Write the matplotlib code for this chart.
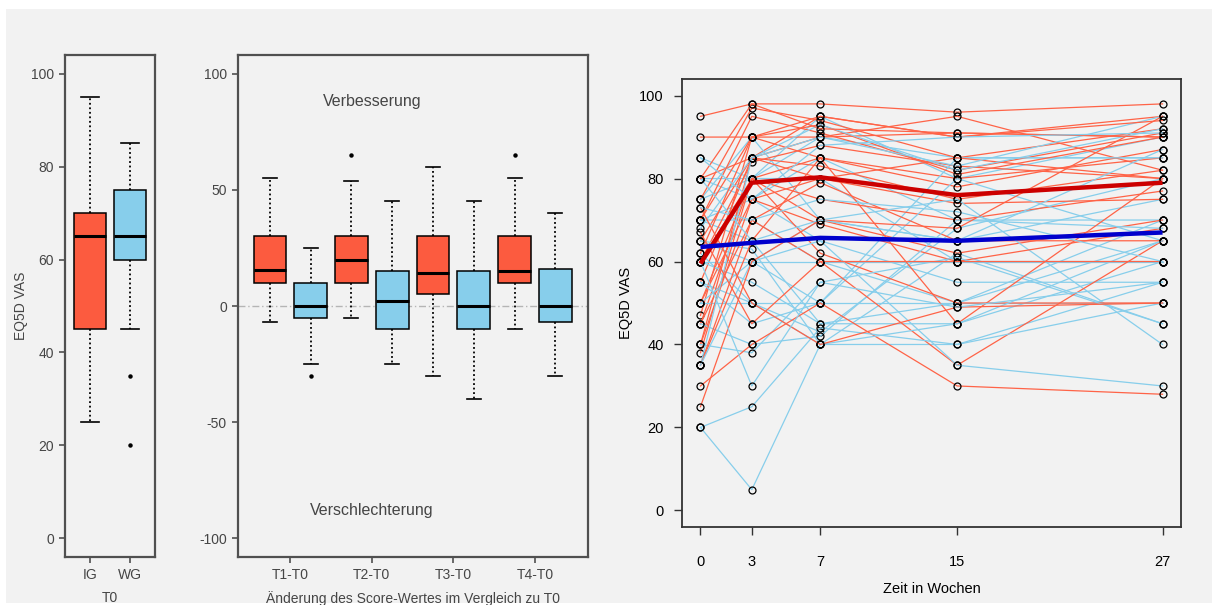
import numpy as np
import matplotlib.pyplot as plt
from matplotlib.patches import Rectangle

plt.rcParams['font.family'] = ['Liberation Sans', 'DejaVu Sans']
plt.rcParams['axes.unicode_minus'] = False

# baseline EQ5D VAS at T0 (whislo, q1, median, q3, whishi)
t0_groups = ["IG", "WG"]
t0_ig = [25, 45, 65, 70, 95]
t0_wg = [45, 60, 65, 75, 85]
t0_ig_out = []
t0_wg_out = [35, 20]

# change from T0 per follow-up
change_labels = ["T1-T0", "T2-T0", "T3-T0", "T4-T0"]
change_ig = [[-7, 10, 15.5, 30, 55], [-5, 10, 20, 30, 54],
             [-30, 5, 14, 30, 60], [-10, 10, 15, 30, 55]]
change_ig_out = [[], [65], [], [65]]
change_wg = [[-25, -5, 0, 10, 25], [-25, -10, 2, 15, 45],
             [-40, -10, 0, 15, 45], [-30, -7, 0, 16, 40]]
change_wg_out = [[-30], [], [], []]

# individual courses over time
weeks = [0, 3, 7, 15, 27]
ig_profiles = [
    [95, 98, 98, 96, 98], [90, 90, 90, 91, 90], [80, 85, 95, 90, 95],
    [75, 97, 94, 85, 92], [70, 95, 91, 82, 91], [70, 90, 85, 80, 85],
    [65, 85, 90, 95, 82], [60, 80, 85, 78, 87], [60, 84, 88, 83, 80],
    [55, 85, 80, 85, 80], [50, 80, 75, 70, 77], [50, 75, 80, 74, 75],
    [47, 90, 93, 81, 90], [45, 80, 70, 62, 70], [45, 70, 79, 65, 65],
    [40, 85, 83, 75, 82], [40, 75, 69, 60, 68], [38, 80, 62, 50, 50],
    [35, 70, 60, 35, 65], [35, 65, 85, 45, 80], [30, 40, 50, 30, 28],
    [25, 60, 70, 68, 95], [67, 45, 60, 60, 60], [73, 50, 40, 49, 50],
    [62, 90, 95, 90, 94], [80, 98, 92, 91, 90],
]
wg_profiles = [
    [85, 80, 90, 85, 85], [80, 80, 95, 80, 90], [80, 75, 85, 70, 70],
    [75, 90, 70, 65, 75], [75, 80, 80, 60, 60], [70, 75, 65, 55, 55],
    [70, 70, 60, 50, 65], [70, 65, 45, 45, 60], [65, 60, 50, 85, 85],
    [65, 63, 40, 40, 55], [62, 50, 43, 68, 80], [60, 60, 60, 60, 60],
    [60, 55, 45, 50, 70], [55, 50, 40, 62, 45], [55, 45, 50, 80, 65],
    [50, 50, 50, 50, 50], [50, 60, 70, 75, 40], [45, 40, 42, 70, 68],
    [40, 38, 55, 61, 45], [35, 85, 90, 83, 95], [35, 60, 65, 35, 30],
    [20, 25, 44, 40, 50], [20, 5, 40, 45, 65], [68, 85, 93, 82, 92],
    [73, 70, 75, 72, 60], [80, 65, 70, 65, 87], [60, 30, 55, 49, 55],
    [85, 75, 88, 90, 91],
]
ig_mean = [59.5, 79, 80.3, 76, 79]
wg_mean = [63.5, 64.5, 65.7, 65, 67]

RED_BOX = "#FC5B3F"
BLUE_BOX = "#87CEEB"
RED_LINE = "#FF6347"
BLUE_LINE = "#87CEEB"
TXT = "#454545"


def stats(v, out):
    return dict(whislo=v[0], q1=v[1], med=v[2], q3=v[3], whishi=v[4], fliers=out)


def draw_boxes(ax, st, pos, width, capw, color):
    ax.bxp(st, positions=pos, widths=width, capwidths=capw, patch_artist=True,
           showfliers=True, manage_ticks=False,
           boxprops=dict(facecolor=color, edgecolor="black", linewidth=1.1),
           whiskerprops=dict(color="black", linestyle=(0, (1, 1.5)), linewidth=1.3),
           capprops=dict(color="black", linewidth=1.2),
           medianprops=dict(color="black", linewidth=2.2),
           flierprops=dict(marker="o", markersize=2.2, markerfacecolor="black",
                           markeredgecolor="black"))


def style_box_axes(ax):
    for s in ax.spines.values():
        s.set_color("#505050")
        s.set_linewidth(1.6)
    ax.tick_params(colors="#505050", labelcolor=TXT, labelsize=10,
                   length=4, width=1.2, pad=4)
    ax.set_facecolor("none")


def draw_course(ax, values, color):
    ax.plot(weeks, values, color=color, lw=0.9, marker="o", ms=5,
            mfc="none", mec="black", mew=0.9)


fig = plt.figure(figsize=(12.12, 6.05), dpi=100, facecolor="white")
fig.patches.append(Rectangle((6 / 1212, 2 / 605), 1, 594 / 605,
                             transform=fig.transFigure, facecolor="#F2F2F2",
                             edgecolor="none", zorder=-10))

# baseline boxplot
ax1 = fig.add_axes([65 / 1212, 48 / 605, 90 / 1212, 502 / 605])
draw_boxes(ax1, [stats(t0_ig, t0_ig_out)], [1], 0.8, 0.45, RED_BOX)
draw_boxes(ax1, [stats(t0_wg, t0_wg_out)], [2], 0.8, 0.45, BLUE_BOX)
ax1.set_xlim(0.375, 2.625)
ax1.set_ylim(-4, 104)
ax1.set_xticks([1, 2])
ax1.set_xticklabels(t0_groups)
ax1.set_yticks([0, 20, 40, 60, 80, 100])
style_box_axes(ax1)
ax1.set_ylabel("EQ5D VAS", color=TXT, fontsize=10)
ax1.yaxis.set_label_coords(-0.41, 0.5)
ax1.set_xlabel("T0", color=TXT, fontsize=10)
ax1.xaxis.set_label_coords(0.5, -0.068)

# change boxplots
ax2 = fig.add_axes([238 / 1212, 48 / 605, 350 / 1212, 502 / 605])
x = np.arange(1, len(change_labels) + 1)
ax2.axhline(0, color="#B5B5B5", linestyle=(0, (5, 2, 1, 2)), linewidth=1, zorder=0)
draw_boxes(ax2, [stats(v, o) for v, o in zip(change_ig, change_ig_out)],
           x - 0.25, 0.4, 0.17, RED_BOX)
draw_boxes(ax2, [stats(v, o) for v, o in zip(change_wg, change_wg_out)],
           x + 0.25, 0.4, 0.17, BLUE_BOX)
ax2.set_xlim(0.36, 4.65)
ax2.set_ylim(-108, 108)
ax2.set_xticks(x)
ax2.set_xticklabels(change_labels)
ax2.set_yticks([-100, -50, 0, 50, 100])
style_box_axes(ax2)
ax2.text(2, 88, "Verbesserung", ha="center", va="center", fontsize=11.5, color=TXT)
ax2.text(2, -88, "Verschlechterung", ha="center", va="center", fontsize=11.5, color=TXT)
ax2.set_xlabel("Änderung des Score-Wertes im Vergleich zu T0", color=TXT, fontsize=10)
ax2.xaxis.set_label_coords(0.5, -0.068)

# individual courses, groups interleaved
ax3 = fig.add_axes([682 / 1212, 78 / 605, 499 / 1212, 448 / 605])
for i in range(max(len(ig_profiles), len(wg_profiles))):
    if i < len(wg_profiles):
        draw_course(ax3, wg_profiles[i], BLUE_LINE)
    if i < len(ig_profiles):
        draw_course(ax3, ig_profiles[i], RED_LINE)
ax3.plot(weeks, ig_mean, color="#CC0000", lw=3.2, zorder=5, solid_capstyle="butt")
ax3.plot(weeks, wg_mean, color="#0000CC", lw=3.2, zorder=5, solid_capstyle="butt")
ax3.set_xlim(-1.08, 28.08)
ax3.set_ylim(-4, 104)
ax3.set_xticks(weeks)
ax3.set_yticks([0, 20, 40, 60, 80, 100])
ax3.set_facecolor("none")
for s in ax3.spines.values():
    s.set_color("#333333")
    s.set_linewidth(1.3)
ax3.tick_params(axis="both", colors="#333333", labelcolor="black",
                labelsize=10.5, length=6, width=1)
ax3.tick_params(axis="x", pad=14)
ax3.tick_params(axis="y", pad=7)
ax3.set_ylabel("EQ5D VAS", fontsize=10.5)
ax3.yaxis.set_label_coords(-0.098, 0.5)
ax3.set_xlabel("Zeit in Wochen", fontsize=10.5)
ax3.xaxis.set_label_coords(0.5, -0.123)

fig.savefig("out.png", dpi=100, facecolor="white")
